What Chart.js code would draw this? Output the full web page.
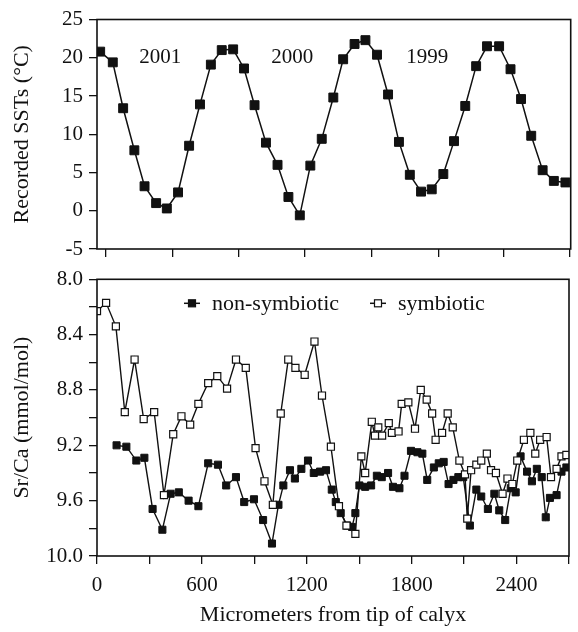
<!DOCTYPE html>
<html>
<head>
<meta charset="utf-8">
<script src="https://cdn.jsdelivr.net/npm/chart.js@4.4.1/dist/chart.umd.min.js"></script>
<style>
  body { margin: 0; background: #fff; overflow: hidden; }
  #wrap { position: relative; width: 578px; height: 632px; overflow: hidden; }
  canvas { position: absolute; left: 0; }
  #sstChart { top: -5px; }
  #srcaChart { top: 255px; }
</style>
</head>
<body>
<div id="wrap">
  <canvas id="sstChart" width="578" height="276"></canvas>
  <canvas id="srcaChart" width="578" height="377"></canvas>
</div>
<script>
// Recorded sea surface temperatures along the skeleton (micrometers, deg C)
const sstX = [18, 90, 149, 213, 271, 337, 398, 462, 525, 587, 649, 711, 776, 838, 898, 963, 1029, 1091,
  1156, 1216, 1281, 1347, 1403, 1468, 1530, 1596, 1659, 1721, 1783, 1847, 1908, 1974, 2035, 2099, 2161,
  2223, 2292, 2357, 2417, 2475, 2540, 2604, 2670];
const sstY = [20.8, 19.4, 13.4, 7.9, 3.2, 1.0, 0.3, 2.4, 8.5, 13.9, 19.1, 21.0, 21.1, 18.6, 13.8, 8.9, 6.0, 1.8,
  -0.6, 5.9, 9.4, 14.8, 19.8, 21.8, 22.3, 20.4, 15.2, 9.0, 4.7, 2.5, 2.8, 4.8, 9.1, 13.7, 18.9,
  21.5, 21.5, 18.5, 14.6, 9.8, 5.3, 3.9, 3.7];
const sstTickX = [48, 430, 808, 1184, 1566, 1945, 2316, 2694];

// Year annotations on the temperature panel
const yearLabels = ['2001', '2000', '1999'];
const yearX = [361, 1113, 1882];
const yearY = 20.1;

// Sr/Ca, symbiotic coral (mmol/mol)
const symX = [0, 52, 108, 159, 215, 267, 327, 383, 436, 483, 533, 580, 636, 688, 744, 795, 851, 907, 958,
  1006, 1051, 1094, 1135, 1188, 1244, 1287, 1338, 1384, 1427, 1478, 1512, 1534, 1572, 1590, 1609, 1631,
  1669, 1687, 1725, 1743, 1781, 1819, 1852, 1886, 1917, 1937, 1974, 2006, 2035, 2073, 2105, 2118, 2140,
  2170, 2198, 2230, 2254, 2282, 2320, 2348, 2376, 2404, 2442, 2479, 2507, 2535, 2572, 2597, 2629, 2657, 2685];
const symY = [8.23, 8.17, 8.34, 8.96, 8.58, 9.01, 8.96, 9.56, 9.12, 8.99, 9.05, 8.90, 8.75, 8.70, 8.79, 8.58, 8.64, 9.22, 9.46,
  9.63, 8.97, 8.58, 8.64, 8.69, 8.45, 8.84, 9.21, 9.64, 9.78, 9.84, 9.28, 9.40, 9.03, 9.13, 9.07, 9.13,
  9.04, 9.11, 9.10, 8.90, 8.89, 9.08, 8.80, 8.87, 8.97, 9.16, 9.11, 8.97, 9.07, 9.31, 9.41, 9.73, 9.38,
  9.34, 9.31, 9.26, 9.38, 9.40, 9.55, 9.44, 9.48, 9.31, 9.16, 9.11, 9.26, 9.16, 9.14, 9.43, 9.37, 9.28, 9.27];

// Sr/Ca, non-symbiotic coral (mmol/mol)
const nonX = [112, 168, 225, 271, 318, 374, 421, 468, 524, 580, 636, 692, 739, 795, 842, 898, 950, 1001,
  1038, 1066, 1104, 1132, 1169, 1207, 1240, 1276, 1310, 1343, 1366, 1394, 1431, 1459, 1478, 1501, 1534,
  1568, 1601, 1629, 1665, 1693, 1730, 1759, 1796, 1833, 1861, 1889, 1927, 1955, 1983, 2011, 2039, 2067,
  2095, 2133, 2170, 2198, 2236, 2273, 2301, 2335, 2367, 2395, 2423, 2460, 2488, 2516, 2544, 2567, 2591,
  2629, 2657, 2685];
const nonY = [9.20, 9.21, 9.31, 9.29, 9.66, 9.81, 9.55, 9.54, 9.60, 9.64, 9.33, 9.34, 9.49, 9.43, 9.61, 9.59, 9.74, 9.91,
  9.63, 9.49, 9.38, 9.44, 9.37, 9.31, 9.40, 9.39, 9.38, 9.52, 9.61, 9.69, 9.78, 9.79, 9.69, 9.49, 9.50,
  9.49, 9.42, 9.43, 9.40, 9.50, 9.51, 9.42, 9.24, 9.25, 9.26, 9.45, 9.36, 9.33, 9.32, 9.48, 9.45, 9.43,
  9.43, 9.78, 9.52, 9.57, 9.66, 9.55, 9.67, 9.74, 9.51, 9.54, 9.28, 9.39, 9.46, 9.37, 9.43, 9.72, 9.58,
  9.56, 9.39, 9.36];

const INK = '#111';
const SERIF = '"Liberation Serif", "Times New Roman", serif';
const toPoints = (xs, ys) => xs.map((x, i) => ({ x: x, y: ys[i] }));

Chart.defaults.font.family = SERIF;
Chart.defaults.font.size = 21;
Chart.defaults.color = INK;

// box round the plot area
const framePlugin = {
  id: 'frame',
  afterDraw(chart) {
    const a = chart.chartArea, ctx = chart.ctx;
    ctx.save();
    ctx.strokeStyle = INK;
    ctx.lineWidth = 1.6;
    ctx.strokeRect(a.left, a.top, a.right - a.left, a.bottom - a.top);
    ctx.restore();
  }
};

const yearPlugin = {
  id: 'years',
  afterDatasetsDraw(chart) {
    const ctx = chart.ctx, xs = chart.scales.x, ys = chart.scales.y;
    ctx.save();
    ctx.font = '21px ' + SERIF;
    ctx.fillStyle = INK;
    ctx.textAlign = 'center';
    ctx.textBaseline = 'middle';
    yearLabels.forEach((t, i) => ctx.fillText(t, xs.getPixelForValue(yearX[i]), ys.getPixelForValue(yearY)));
    ctx.restore();
  }
};

// legend drawn inside the Sr/Ca panel
const legendPlugin = {
  id: 'innerLegend',
  afterDraw(chart) {
    const a = chart.chartArea, ctx = chart.ctx;
    const y = a.top + 24;
    const items = [
      { text: 'non-symbiotic', mx: a.left + 95, fill: INK },
      { text: 'symbiotic', mx: a.left + 281, fill: '#fff' }
    ];
    ctx.save();
    ctx.font = '22px ' + SERIF;
    ctx.textBaseline = 'middle';
    items.forEach(it => {
      ctx.strokeStyle = INK;
      ctx.lineWidth = 1.5;
      ctx.beginPath();
      ctx.moveTo(it.mx - 8, y);
      ctx.lineTo(it.mx + 8, y);
      ctx.stroke();
      ctx.fillStyle = it.fill;
      ctx.fillRect(it.mx - 3.5, y - 3.5, 7, 7);
      ctx.lineWidth = 1.2;
      ctx.strokeRect(it.mx - 3.5, y - 3.5, 7, 7);
      ctx.fillStyle = INK;
      ctx.fillText(it.text, it.mx + 20, y + 1);
    });
    ctx.restore();
  }
};

const tickGrid = { drawOnChartArea: false, drawTicks: true, tickLength: 8, color: INK, lineWidth: 1.3 };
const titleFont = { size: 22 };

new Chart(document.getElementById('sstChart'), {
  type: 'scatter',
  data: {
    datasets: [{
      data: toPoints(sstX, sstY),
      showLine: true,
      borderColor: INK,
      borderWidth: 1.5,
      backgroundColor: INK,
      pointStyle: 'rect',
      pointRadius: 6.3,
      pointBorderWidth: 1,
      tension: 0
    }]
  },
  options: {
    responsive: false,
    animation: false,
    devicePixelRatio: 1,
    layout: { padding: { top: 24.5, right: 1, left: 0, bottom: 0 } },
    plugins: { legend: { display: false }, tooltip: { enabled: false } },
    scales: {
      x: {
        type: 'linear', min: 0, max: 2700,
        afterBuildTicks: s => { s.ticks = sstTickX.map(v => ({ value: v })); },
        afterFit: s => { s.height = 22; },
        ticks: { display: false },
        grid: tickGrid,
        border: { display: false }
      },
      y: {
        min: -5, max: 25,
        ticks: { stepSize: 5, padding: 6 },
        afterFit: s => { s.width = 97; },
        grid: tickGrid,
        border: { display: false },
        title: { display: true, text: 'Recorded SSTs (°C)', font: titleFont, padding: { top: 9, bottom: 0 } }
      }
    }
  },
  plugins: [framePlugin, yearPlugin]
});

new Chart(document.getElementById('srcaChart'), {
  type: 'scatter',
  data: {
    datasets: [{
      label: 'non-symbiotic',
      data: toPoints(nonX, nonY),
      showLine: true,
      borderColor: INK,
      borderWidth: 1.4,
      backgroundColor: INK,
      pointStyle: 'rect',
      pointRadius: 5,
      pointBorderWidth: 1,
      tension: 0,
      order: 2
    }, {
      label: 'symbiotic',
      data: toPoints(symX, symY),
      showLine: true,
      borderColor: INK,
      borderWidth: 1.4,
      backgroundColor: '#fff',
      pointStyle: 'rect',
      pointRadius: 5,
      pointBorderWidth: 1.2,
      tension: 0,
      order: 1
    }]
  },
  options: {
    responsive: false,
    animation: false,
    devicePixelRatio: 1,
    layout: { padding: { top: 24.3, right: 1, left: 0, bottom: 0 } },
    plugins: { legend: { display: false }, tooltip: { enabled: false } },
    scales: {
      x: {
        type: 'linear', min: 0, max: 2700,
        ticks: {
          stepSize: 300, autoSkip: false, maxRotation: 0, padding: 9,
          callback: v => (v % 600 === 0 ? String(v) : '')
        },
        afterFit: s => { s.height = 76; },
        grid: tickGrid,
        border: { display: false },
        title: { display: true, text: 'Micrometers from tip of calyx', font: titleFont, padding: { top: 2, bottom: 4 } }
      },
      y: {
        min: 8, max: 10, reverse: true,
        ticks: {
          stepSize: 0.2, autoSkip: false, padding: 6,
          callback: v => (Math.round(v * 10) % 4 === 0 ? v.toFixed(1) : '')
        },
        afterFit: s => { s.width = 97; },
        grid: tickGrid,
        border: { display: false },
        title: { display: true, text: 'Sr/Ca (mmol/mol)', font: titleFont, padding: { top: 9, bottom: 0 } }
      }
    }
  },
  plugins: [framePlugin, legendPlugin]
});
</script>
</body>
</html>
